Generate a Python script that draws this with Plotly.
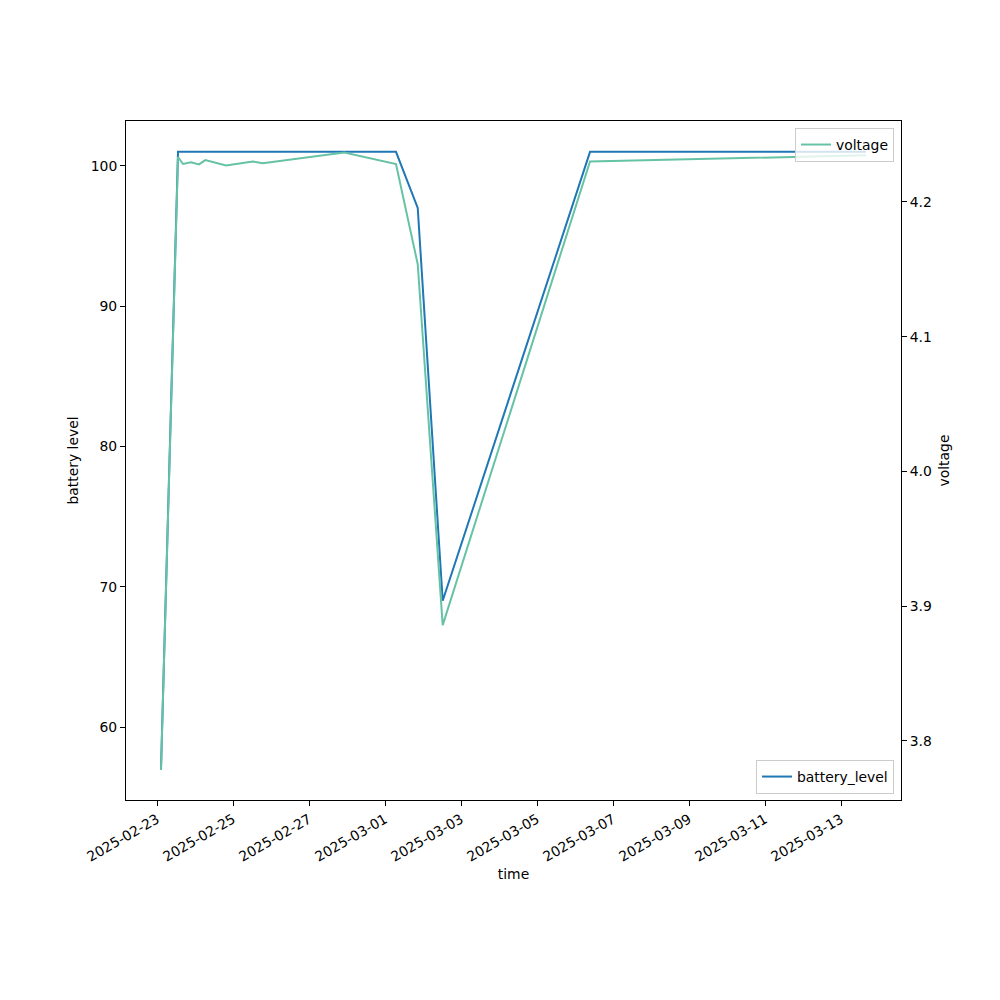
import plotly.graph_objects as go

time = [
    "2025-02-23 02:31", "2025-02-23 13:16", "2025-02-23 16:25", "2025-02-23 21:29",
    "2025-02-24 02:31", "2025-02-24 06:30", "2025-02-24 19:35", "2025-02-25 12:26",
    "2025-02-25 18:46", "2025-02-27 22:18", "2025-03-01 06:56", "2025-03-01 20:40",
    "2025-03-02 12:26", "2025-03-06 09:29", "2025-03-13 15:47",
]
battery_level = [57, 101, 101, 101, 101, 101, 101, 101, 101, 101, 101, 97, 69, 101, 101]
voltage = [3.7785, 4.2334, 4.2282, 4.2294, 4.2279, 4.2311, 4.2271, 4.2301,
           4.2288, 4.2367, 4.2282, 4.1538, 3.886, 4.2301, 4.2346]

x_tick_labels = ["2025-02-23", "2025-02-25", "2025-02-27", "2025-03-01", "2025-03-03",
                 "2025-03-05", "2025-03-07", "2025-03-09", "2025-03-11", "2025-03-13"]
left_ticks = [60, 70, 80, 90, 100]
right_ticks = [3.8, 3.9, 4.0, 4.1, 4.2]
right_tick_labels = ["3.8", "3.9", "4.0", "4.1", "4.2"]

FONT = "DejaVu Sans"
FS = 13.9
fig = go.Figure()
fig.add_trace(go.Scatter(x=time, y=battery_level, mode="lines", name="battery_level",
                         line=dict(color="#1f77b4", width=2), yaxis="y", legend="legend2",
                         showlegend=True))
fig.add_trace(go.Scatter(x=time, y=voltage, mode="lines", name="voltage",
                         line=dict(color="#66c2a5", width=2), yaxis="y2", legend="legend",
                         showlegend=True))

axis_common = dict(showgrid=False, zeroline=False, showline=True, linecolor="black",
                   linewidth=1, ticks="outside", ticklen=5, tickcolor="black",
                   automargin=False,
                   tickfont=dict(family=FONT, size=FS, color="black"))

fig.update_layout(
    width=1000, height=1000,
    margin=dict(l=118, r=107, t=113, b=208, autoexpand=False),
    paper_bgcolor="white", plot_bgcolor="white",
    showlegend=True,
    font=dict(family=FONT, size=FS, color="black"),
    xaxis=dict(type="date", range=["2025-02-22 04:25", "2025-03-14 13:53"],
               tickvals=x_tick_labels, ticktext=x_tick_labels, tickangle=-30,
               mirror=True,
               title=dict(text="time", font=dict(family=FONT, size=FS), standoff=5),
               **axis_common),
    yaxis=dict(range=[54.8, 103.2], tickvals=left_ticks, mirror=True,
               title=dict(text="battery level", font=dict(family=FONT, size=FS), standoff=8),
               **axis_common),
    yaxis2=dict(range=[3.7562, 4.2601], tickvals=right_ticks, ticktext=right_tick_labels,
                overlaying="y", side="right", anchor="x",
                title=dict(text="voltage", font=dict(family=FONT, size=FS), standoff=8),
                **axis_common),
    legend=dict(x=0.991, y=0.9897, xanchor="right", yanchor="top",
                bgcolor="rgba(255,255,255,0.8)", bordercolor="#cccccc", borderwidth=1,
                font=dict(family=FONT, size=FS)),
    legend2=dict(x=0.991, y=0.0088, xanchor="right", yanchor="bottom",
                 bgcolor="rgba(255,255,255,0.8)", bordercolor="#cccccc", borderwidth=1,
                 font=dict(family=FONT, size=FS)),
)

fig.write_html("out.html")
